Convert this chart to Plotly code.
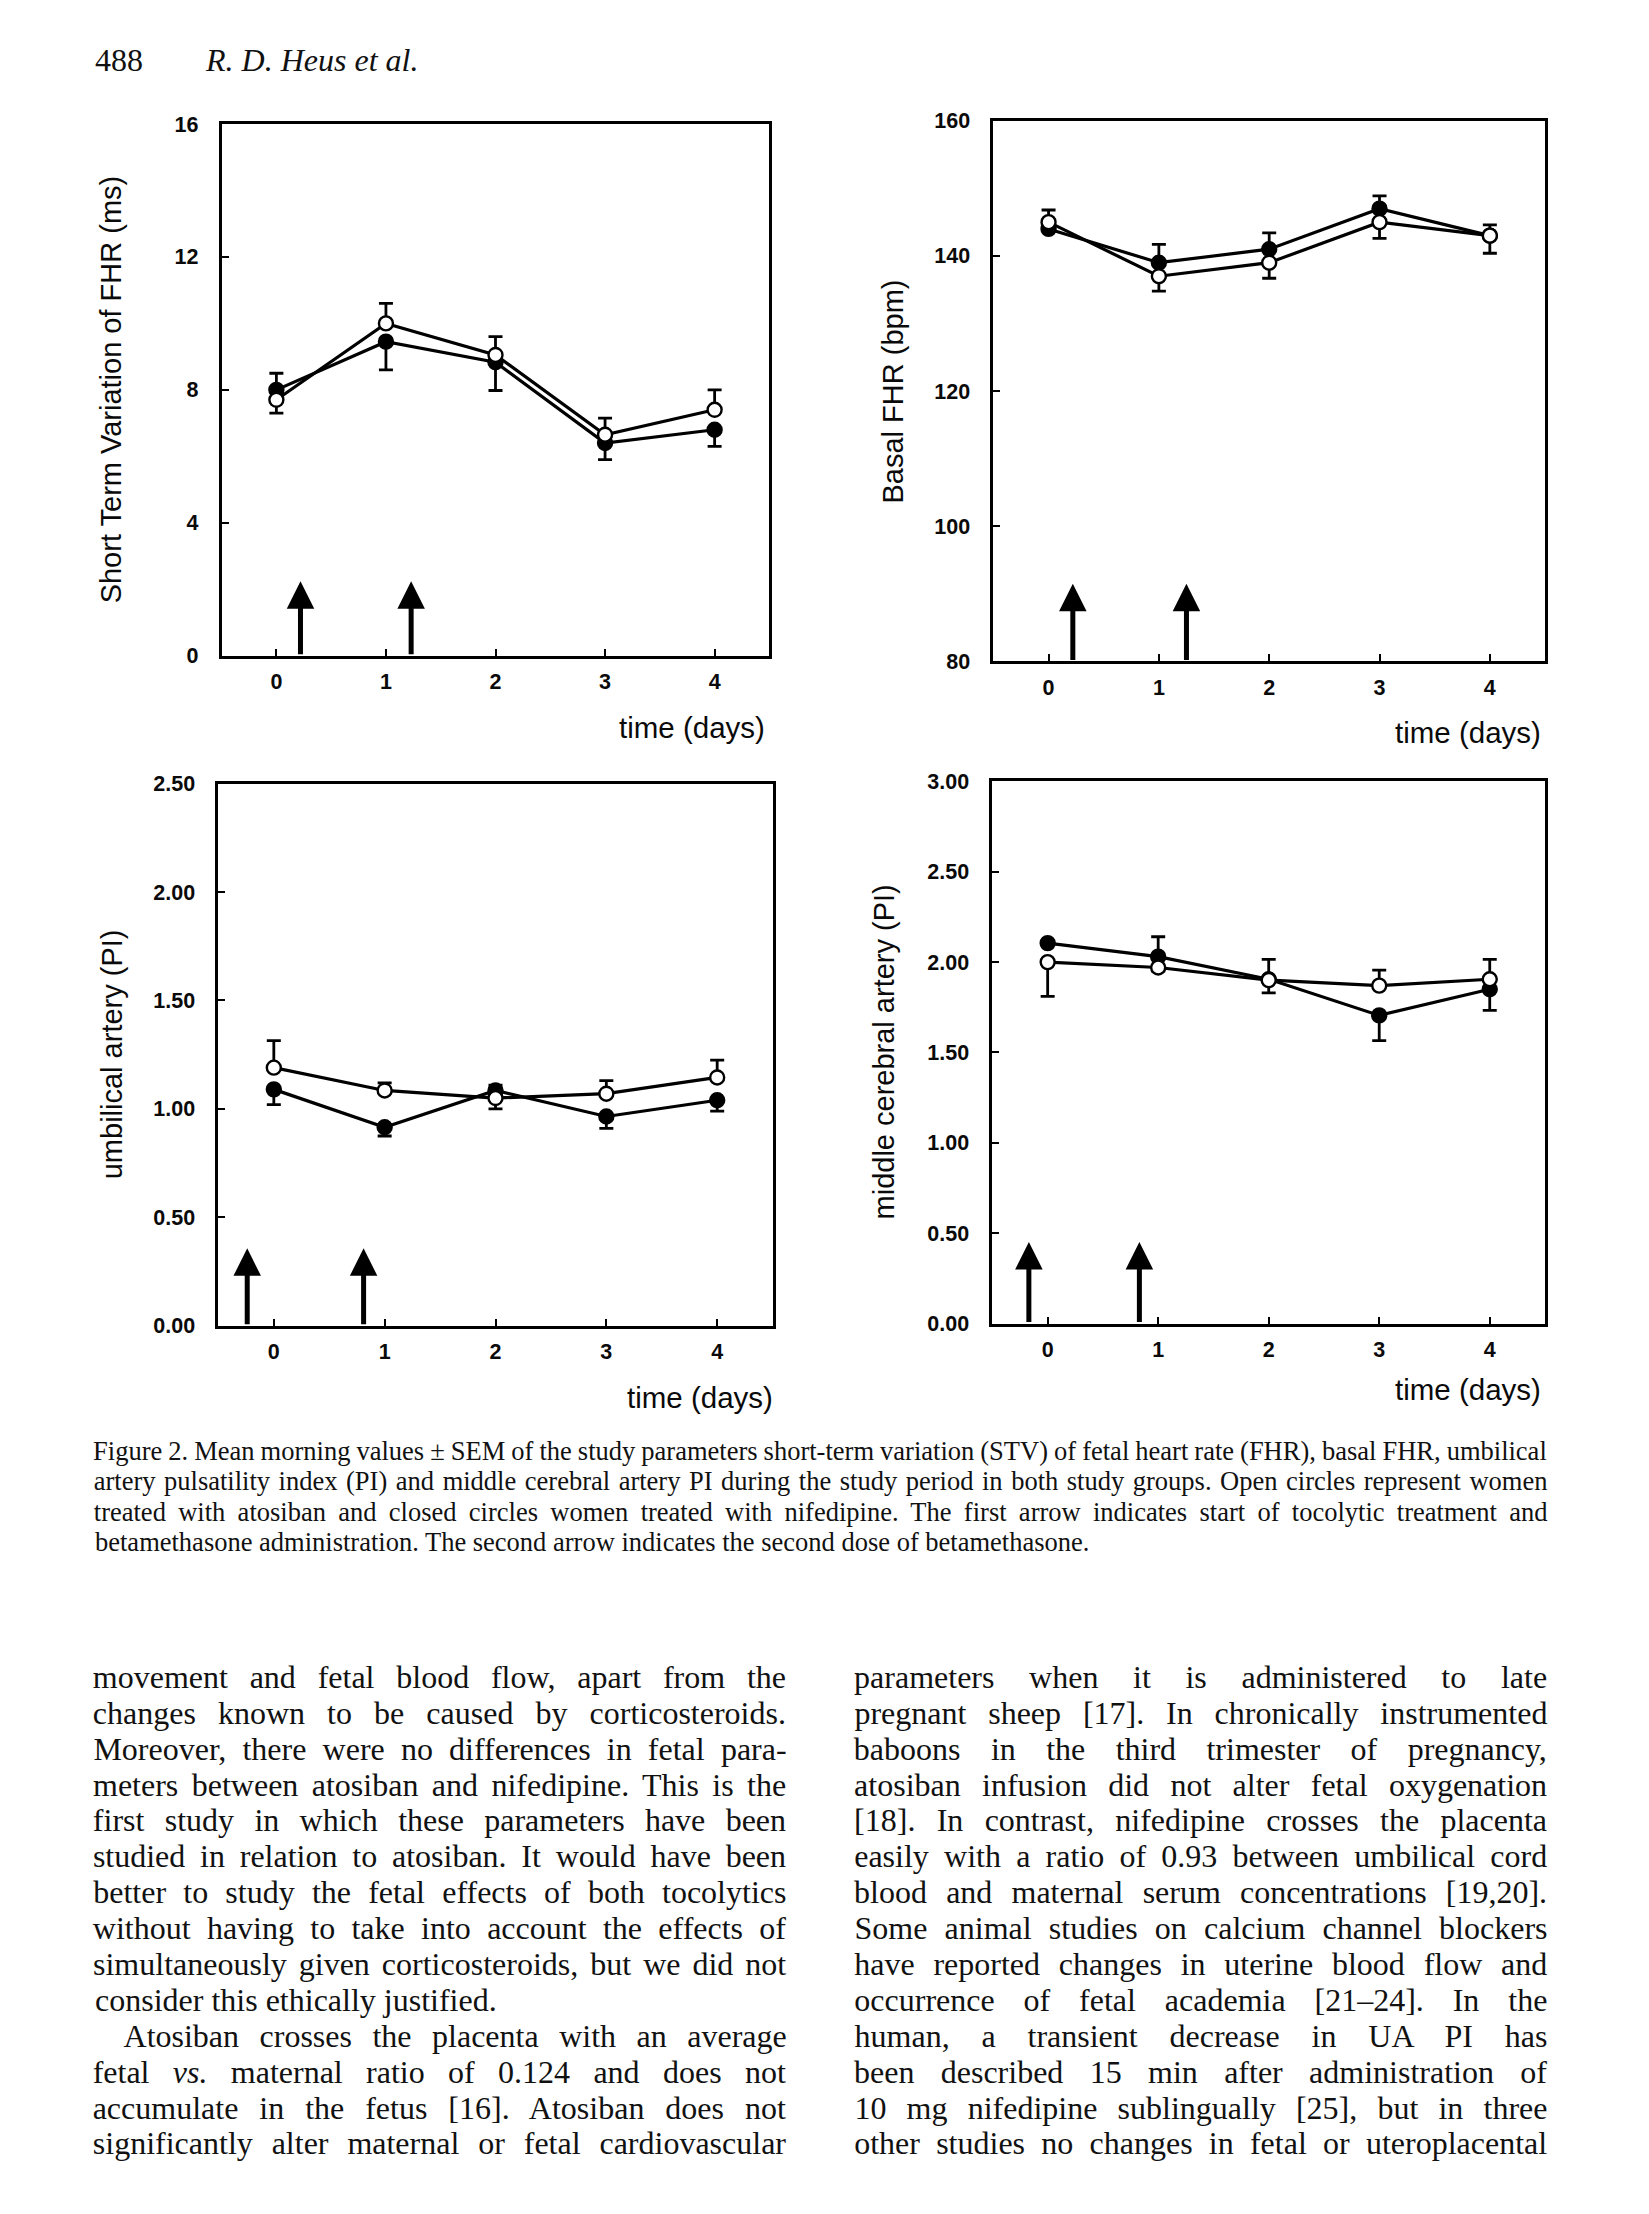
import json
import plotly.graph_objects as go

W, H = 1649, 2214

# ---------------- data ----------------
days = [0, 1, 2, 3, 4]
day_labels = ["0", "1", "2", "3", "4"]

# Short term variation of FHR (ms)
stv_open = [7.7, 10.0, 9.05, 6.65, 7.4]
stv_open_sem = [0.4, 0.6, 0.55, 0.5, 0.6]
stv_open_side = [-1, 1, 1, 1, 1]
stv_closed = [8.0, 9.45, 8.83, 6.4, 6.8]
stv_closed_sem = [0.5, 0.85, 0.85, 0.5, 0.5]
stv_closed_side = [1, -1, -1, -1, -1]

# Basal FHR (bpm)
fhr_open = [145.0, 137.0, 139.0, 145.0, 143.0]
fhr_open_sem = [1.8, 2.2, 2.3, 2.4, 2.6]
fhr_open_side = [1, -1, -1, -1, -1]
fhr_closed = [144.0, 139.0, 141.0, 147.0, 143.0]
fhr_closed_sem = [0.0, 2.7, 2.4, 1.9, 1.6]
fhr_closed_side = [-1, 1, 1, 1, 1]

# Umbilical artery PI
ua_open = [1.19, 1.085, 1.05, 1.07, 1.145]
ua_open_sem = [0.125, 0.035, 0.05, 0.06, 0.08]
ua_open_side = [1, 1, -1, 1, 1]
ua_closed = [1.09, 0.915, 1.085, 0.965, 1.04]
ua_closed_sem = [0.07, 0.04, 0.025, 0.055, 0.05]
ua_closed_side = [-1, -1, 1, -1, -1]

# Middle cerebral artery PI
mca_open = [2.00, 1.97, 1.90, 1.87, 1.905]
mca_open_sem = [0.19, 0.02, 0.07, 0.085, 0.11]
mca_open_side = [-1, -1, -1, 1, 1]
mca_closed = [2.105, 2.03, 1.905, 1.705, 1.85]
mca_closed_sem = [0.0, 0.11, 0.11, 0.14, 0.117]
mca_closed_side = [1, 1, 1, -1, -1]

# arrows (time position of the two events, arrow top in axis units)
stv_arrow_days = [0.22, 1.23]
stv_arrow_top = 2.24
fhr_arrow_days = [0.22, 1.25]
fhr_arrow_top = 91.5
ua_arrow_days = [-0.24, 0.81]
ua_arrow_top = 0.357
mca_arrow_days = [-0.17, 0.83]
mca_arrow_top = 0.452

stv_ticks = [0, 4, 8, 12, 16]
fhr_ticks = [80, 100, 120, 140, 160]
ua_ticks = [0.0, 0.5, 1.0, 1.5, 2.0, 2.5]
mca_ticks = [0.0, 0.5, 1.0, 1.5, 2.0, 2.5, 3.0]

header_num = "488"
header_auth = "R. D. Heus et al."

caption_lines = [
    "Figure 2. Mean morning values ± SEM of the study parameters short-term variation (STV) of fetal heart rate (FHR), basal FHR, umbilical",
    "artery pulsatility index (PI) and middle cerebral artery PI during the study period in both study groups. Open circles represent women",
    "treated with atosiban and closed circles women treated with nifedipine. The first arrow indicates start of tocolytic treatment and",
    "betamethasone administration. The second arrow indicates the second dose of betamethasone.",
]
left_col = [
    "movement and fetal blood flow, apart from the",
    "changes known to be caused by corticosteroids.",
    "Moreover, there were no differences in fetal para-",
    "meters between atosiban and nifedipine. This is the",
    "first study in which these parameters have been",
    "studied in relation to atosiban. It would have been",
    "better to study the fetal effects of both tocolytics",
    "without having to take into account the effects of",
    "simultaneously given corticosteroids, but we did not",
    "consider this ethically justified.",
    "Atosiban crosses the placenta with an average",
    "fetal <i>vs.</i> maternal ratio of 0.124 and does not",
    "accumulate in the fetus [16]. Atosiban does not",
    "significantly alter maternal or fetal cardiovascular",
]
right_col = [
    "parameters when it is administered to late",
    "pregnant sheep [17]. In chronically instrumented",
    "baboons in the third trimester of pregnancy,",
    "atosiban infusion did not alter fetal oxygenation",
    "[18]. In contrast, nifedipine crosses the placenta",
    "easily with a ratio of 0.93 between umbilical cord",
    "blood and maternal serum concentrations [19,20].",
    "Some animal studies on calcium channel blockers",
    "have reported changes in uterine blood flow and",
    "occurrence of fetal academia [21–24]. In the",
    "human, a transient decrease in UA PI has",
    "been described 15 min after administration of",
    "10 mg nifedipine sublingually [25], but in three",
    "other studies no changes in fetal or uteroplacental",
]

# ---------------- layout helpers ----------------
def px(x):
    return x / W

def py(y):
    return 1 - y / H

AX_FONT = "Arial, Liberation Sans, sans-serif"
SERIF = "Liberation Serif, Times New Roman, serif"
TXT = "#0a0a0a"

panels = [
    dict(box=(221.6, 769.4, 114.3, 651.7), yr=[0, 16], yt=stv_ticks, fmt="d",
         o=(stv_open, stv_open_sem, stv_open_side), c=(stv_closed, stv_closed_sem, stv_closed_side),
         arrows=(stv_arrow_days, stv_arrow_top),
         title="Short Term Variation of FHR (ms)", tx=110.5, tday=(767, 724)),
    dict(box=(993.4, 1545.0, 111.0, 657.5), yr=[80, 160], yt=fhr_ticks, fmt="d",
         o=(fhr_open, fhr_open_sem, fhr_open_side), c=(fhr_closed, fhr_closed_sem, fhr_closed_side),
         arrows=(fhr_arrow_days, fhr_arrow_top),
         title="Basal FHR (bpm)", tx=893.4, tday=(1543, 729)),
    dict(box=(218.4, 772.6, 781.0, 1329.2), yr=[0, 2.5], yt=ua_ticks, fmt=".2f",
         o=(ua_open, ua_open_sem, ua_open_side), c=(ua_closed, ua_closed_sem, ua_closed_side),
         arrows=(ua_arrow_days, ua_arrow_top),
         title="umbilical artery (PI)", tx=111.6, tday=(775, 1401.5)),
    dict(box=(992.4, 1545.0, 778.75, 1327.0), yr=[0, 3.0], yt=mca_ticks, fmt=".2f",
         o=(mca_open, mca_open_sem, mca_open_side), c=(mca_closed, mca_closed_sem, mca_closed_side),
         arrows=(mca_arrow_days, mca_arrow_top),
         title="middle cerebral artery (PI)", tx=884.0, tday=(1543, 1394)),
]

fig = go.Figure()
annotations = []
layout = dict(width=W, height=H, margin=dict(l=0, r=0, t=0, b=0),
              paper_bgcolor="white", plot_bgcolor="white", showlegend=False)


def err_arrays(sem, side):
    up = [s if d > 0 else 0 for s, d in zip(sem, side)]
    dn = [s if d < 0 else 0 for s, d in zip(sem, side)]
    return up, dn


for i, p in enumerate(panels):
    n = "" if i == 0 else str(i + 1)
    xa, ya = "x" + n, "y" + n
    x0, x1, y0, y1 = p["box"]
    common_axis = dict(showline=True, linecolor="black", linewidth=2.8, mirror=True,
                       showgrid=False, zeroline=False, ticks="inside", ticklen=7,
                       tickwidth=2.4, tickcolor="black",
                       tickfont=dict(family=AX_FONT, size=21.5, color=TXT, weight="bold"))
    layout["xaxis" + n] = dict(domain=[px(x0), px(x1)], range=[-0.5, 4.5], anchor=ya,
                               tickvals=days, ticktext=day_labels, ticklabelstandoff=5,
                               **common_axis)
    layout["yaxis" + n] = dict(domain=[py(y1), py(y0)], range=p["yr"], anchor=xa,
                               tickvals=p["yt"], tickformat=p["fmt"], ticklabelstandoff=16,
                               **common_axis)

    for vals, style in ((p["c"], "closed"), (p["o"], "open")):
        v, sem, side = vals
        up, dn = err_arrays(sem, side)
        fig.add_trace(go.Scatter(
            x=days, y=v, xaxis=xa, yaxis=ya, mode="lines+markers",
            line=dict(color="black", width=3.2),
            marker=dict(size=14, symbol="circle",
                        color="black" if style == "closed" else "white",
                        line=dict(color="black", width=2.4)),
            error_y=dict(type="data", symmetric=False, array=up, arrayminus=dn,
                         color="black", thickness=2.8, width=7),
            cliponaxis=False,
        ))

    adays, atop = p["arrows"]
    for ad in adays:
        annotations.append(dict(x=ad, y=atop, ax=ad, ay=p["yr"][0], xref=xa, yref=ya,
                                axref=xa, ayref=ya, text="", showarrow=True,
                                arrowhead=2, arrowsize=1.1, arrowwidth=5,
                                arrowcolor="black", standoff=0, startstandoff=0))

    annotations.append(dict(x=px(p["tx"]), y=py((y0 + y1) / 2), xref="paper", yref="paper",
                            text=p["title"], textangle=-90, showarrow=False,
                            xanchor="center", yanchor="middle",
                            font=dict(family=AX_FONT, size=29, color=TXT)))
    annotations.append(dict(x=px(p["tday"][0]), y=py(p["tday"][1]), xref="paper", yref="paper",
                            text="time (days)", showarrow=False,
                            xanchor="right", yanchor="middle",
                            font=dict(family=AX_FONT, size=29.5, color=TXT)))

# ---------------- page text ----------------
justify = {}


def add_line(text, left, right, baseline, size, just, indent=0.0):
    center_y = baseline - 0.34 * size
    if just:
        idx = len(annotations)
        annotations.append(dict(x=px((left + indent + right) / 2), y=py(center_y),
                                xref="paper", yref="paper", text=text, showarrow=False,
                                xanchor="center", yanchor="middle",
                                font=dict(family=SERIF, size=size, color="#111")))
        justify[str(idx)] = right - left - indent
    else:
        annotations.append(dict(x=px(left + indent), y=py(center_y),
                                xref="paper", yref="paper", text=text, showarrow=False,
                                xanchor="left", yanchor="middle",
                                font=dict(family=SERIF, size=size, color="#111")))


add_line(header_num, 93.3, 0, 60, 32, False)
add_line("<i>" + header_auth + "</i>", 203, 0, 60, 32, False)

cap_left, cap_right = 93.3, 1547.0
for k, line in enumerate(caption_lines):
    add_line(line, cap_left, cap_right, 1465 + 30.55 * k, 26.5, k < len(caption_lines) - 1)

lc_left, lc_right = 93.3, 786.5
rc_left, rc_right = 854.0, 1547.0
for k, line in enumerate(left_col):
    add_line(line, lc_left, lc_right, 1695 + 36.28 * k, 32, k != 9,
             indent=30.0 if k == 10 else 0.0)
for k, line in enumerate(right_col):
    add_line(line, rc_left, rc_right, 1695 + 36.28 * k, 32, True)

layout["annotations"] = annotations
fig.update_layout(**layout)

post = """
(function(){
  var gd = document.getElementById('{plot_id}');
  var de = document.documentElement, b = document.body;
  de.style.margin = '0px'; de.style.padding = '0px';
  b.style.margin = '0px'; b.style.padding = '0px';
  de.style.height = '%dpx'; b.style.height = '%dpx';
  de.style.overflow = 'hidden'; b.style.overflow = 'hidden';
  gd.style.position = 'absolute'; gd.style.left = '0px'; gd.style.top = '0px';
  var J = %s;
  function justify(){
    var groups = gd.querySelectorAll('g.annotation');
    for (var k = 0; k < groups.length; k++) {
      var g = groups[k];
      var idx = g.getAttribute('data-index');
      if (!(idx in J)) continue;
      var t = g.querySelector('text.annotation-text');
      if (!t) continue;
      t.style.wordSpacing = '0px';
      var n = t.textContent.split(' ').length - 1;
      if (n < 1) continue;
      var L = t.getComputedTextLength();
      t.style.wordSpacing = ((J[idx] - L) / n) + 'px';
    }
  }
  justify();
  if (gd.on) gd.on('plotly_afterplot', justify);
})();
""" % (H, H, json.dumps(justify))

fig.write_html("out.html", post_script=post, config={"displayModeBar": False})
